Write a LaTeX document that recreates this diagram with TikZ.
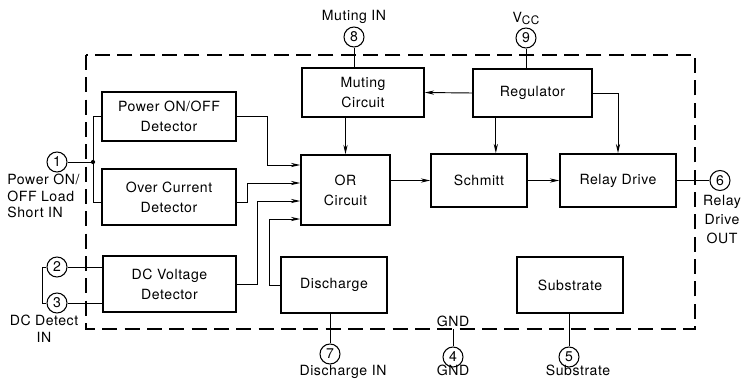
\documentclass[tikz,border=0pt]{standalone}
\usepackage{fontspec}
\setmainfont{TeX Gyre Heros}[LetterSpace=4.0]
\usepackage{tikz}
\usetikzlibrary{calc,arrows.meta}

\begin{document}
\begin{tikzpicture}[
            x=0.03cm, y=-0.03cm,
            blockbox/.style={
                draw,
                line width=1.3pt,
                inner sep=2pt,
                align=center,
                font=\fontsize{12}{17}\selectfont
            },
            pinnode/.style={
                draw,
                circle,
                line width=0.9pt,
                minimum size=0.6cm,
                inner sep=0pt,
                font=\fontsize{12}{14}\selectfont
            },
            pinlabel/.style={
                inner sep=1pt,
                align=center,
                font=\fontsize{12}{14}\selectfont
            },
            wire/.style={
                line width=0.8pt
            },
            sigarrow/.style={
                wire,
                -{Stealth[length=8pt,width=3.6pt]}
            }
        ]
        \useasboundingbox (0,0) rectangle (747,385);

        % --- Package outline ---
        \draw[line width=1.3pt, dash pattern=on 0.45cm off 0.22cm]
            (86,55) rectangle (695,329);

        % --- Blocks ---
        \node[blockbox, minimum width=4.02cm, minimum height=1.47cm]
            (pwr) at (169,116.5) {Power ON/OFF\\Detector};
        \node[blockbox, minimum width=4.02cm, minimum height=1.68cm]
            (ocd) at (169,197) {Over Current\\Detector};
        \node[blockbox, minimum width=3.99cm, minimum height=1.68cm]
            (dcv) at (169.5,284) {DC Voltage\\Detector};
        \node[blockbox, minimum width=3.66cm, minimum height=1.47cm]
            (mute) at (363,92.5) {Muting\\Circuit};
        \node[blockbox, minimum width=3.57cm, minimum height=1.44cm]
            (reg) at (532.5,93) {Regulator};
        \node[blockbox, minimum width=2.67cm, minimum height=2.1cm]
            (orc) at (345.5,190) {OR\\Circuit};
        \node[blockbox, minimum width=3.18cm, minimum height=1.68cm]
            (dis) at (334,285) {Discharge};
        \node[blockbox, minimum width=2.88cm, minimum height=1.59cm]
            (sch) at (479,180.5) {Schmitt};
        \node[blockbox, minimum width=3.48cm, minimum height=1.59cm]
            (rly) at (618,180.5) {Relay Drive};
        \node[blockbox, minimum width=3.18cm, minimum height=1.68cm]
            (sub) at (570,285) {Substrate};

        % --- Pins ---
        \node[pinnode] (p1) at (57,162) {1};
        \node[pinnode] (p2) at (57,267) {2};
        \node[pinnode] (p3) at (57,303) {3};
        \node[pinnode] (p4) at (453,357) {4};
        \node[pinnode] (p5) at (569,357) {5};
        \node[pinnode] (p6) at (720,180.5) {6};
        \node[pinnode] (p7) at (330,354) {7};
        \node[pinnode] (p8) at (354,37) {8};
        \node[pinnode] (p9) at (526,38) {9};

        \node[pinlabel, anchor=north west, align=left]
            (lp1) at (6,173) {Power ON/\\OFF Load\\Short IN};
        \node[pinlabel, anchor=north]
            (lp23) at (44,314) {DC Detect\\IN};
        \node[pinlabel, anchor=south]
            (lp8) at ([yshift=1pt]p8.north) {Muting IN};
        \node[pinlabel, anchor=south]
            (lp9) at ([yshift=1pt]p9.north) {V\raisebox{-0.25ex}{\fontsize{10}{10}\selectfont CC}};
        \node[pinlabel, anchor=north, font=\fontsize{12}{16}\selectfont]
            (lp6) at (722,194) {Relay\\Drive\\OUT};
        \node[pinlabel, anchor=north]
            (lp7) at (343,364) {Discharge IN};
        \node[pinlabel, anchor=north]
            (lp4) at (453,364) {GND};
        \node[pinlabel, anchor=north]
            (lp5) at (578,364) {Substrate};
        \node[pinlabel, anchor=south]
            (lgnd) at (453,328) {GND};
        \coordinate (gnd) at (453,329);
        \coordinate (j1) at (93,162);

        % --- Pin wiring ---
        \draw[wire] (p1) -- (j1);
        \fill (j1) circle (1.8pt);
        \draw[wire] (j1) |- (pwr.west);
        \draw[wire] (j1) |- ([yshift=-0.15cm]ocd.west);
        \draw[wire] (p2) -- (p2 -| dcv.west);
        \draw[wire] (p3) -- (p3 -| dcv.west);
        \draw[wire] (p2.west) -- ++(-4,0) |- (p3.west);
        \draw[wire] (p8) -- (p8 |- mute.north);
        \draw[wire] (p9) -- (p9 |- reg.north);
        \draw[wire] (rly.east) -- (p6);
        \draw[wire] (p7) -- (p7 |- dis.south);
        \draw[wire] (gnd) -- (p4);
        \draw[wire] (sub.south -| p5) -- (p5);

        % --- Signal flow ---
        \draw[sigarrow] (pwr.east) -- ++(31,0) |- ([yshift=0.75cm]orc.west);
        \draw[sigarrow] ([yshift=-0.15cm]ocd.east) -- ++(11,0) |- ([yshift=0.21cm]orc.west);
        \draw[sigarrow] (dcv.east) -- ++(21,0) |- ([yshift=-0.33cm]orc.west);
        \draw[sigarrow] (dis.west) -- ++(-11,0) |- ([yshift=-0.87cm]orc.west);
        \draw[sigarrow] (mute.south -| orc.north) -- (orc.north);
        \draw[sigarrow] (reg.west) -- (mute.east);
        \draw[sigarrow] ([xshift=-1.1cm]reg.south) -- ([xshift=-1.1cm]reg.south |- sch.north);
        \draw[sigarrow] (reg.east) -| (rly.north);
        \draw[sigarrow] (sch.west -| orc.east) -- (sch.west);
        \draw[sigarrow] (sch.east) -- (rly.west);

        \end{tikzpicture}
\end{document}
